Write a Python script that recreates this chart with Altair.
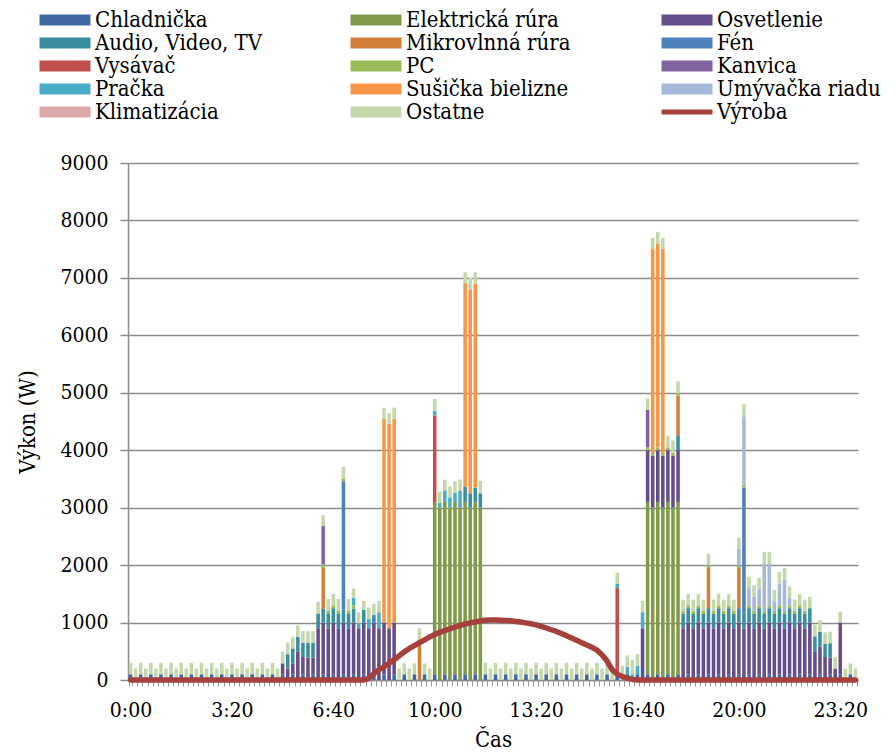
import altair as alt
import pandas as pd

# ---------------- data ----------------
times = [f"{m // 60}:{m % 60:02d}" for m in range(0, 1440, 10)]
tick_labels = ["0:00", "3:20", "6:40", "10:00", "13:20", "16:40", "20:00", "23:20"]

names = ["Chladnička", "Elektrická rúra", "Osvetlenie",
         "Audio, Video, TV", "Mikrovlnná rúra", "Fén",
         "Vysávač", "PC", "Kanvica",
         "Pračka", "Sušička bielizne", "Umývačka riadu",
         "Klimatizácia", "Ostatne", "Výroba"]
colors = ["#4268A3", "#809B48", "#654E8B",
          "#3B8DA0", "#D0803A", "#4F81BD",
          "#C0504D", "#9BBB59", "#8064A2",
          "#4BACC6", "#F79646", "#A7B9DA",
          "#DBA9A8", "#C5D8AC", "#A5403D"]

chladnicka = [
    100, 0, 100, 0, 100, 0, 100, 0, 100, 0, 100, 0,
    100, 0, 100, 0, 100, 0, 100, 0, 100, 0, 100, 0,
    100, 0, 100, 0, 100, 0, 100, 0, 100, 0, 100, 0,
    100, 0, 100, 0, 100, 0, 100, 0, 100, 0, 100, 0,
    100, 0, 100, 0, 100, 0, 100, 0, 100, 0, 100, 0,
    100, 0, 100, 0, 100, 0, 100, 0, 100, 0, 100, 0,
    100, 0, 100, 0, 100, 0, 100, 0, 100, 0, 100, 0,
    100, 0, 100, 0, 100, 0, 100, 0, 100, 0, 100, 0,
    100, 0, 100, 0, 100, 0, 100, 0, 100, 0, 100, 0,
    100, 0, 100, 0, 100, 0, 100, 0, 100, 0, 100, 0,
    100, 0, 100, 0, 100, 0, 100, 0, 100, 0, 100, 0,
    100, 0, 100, 0, 100, 0, 100, 0, 100, 0, 100, 0,
]
osvetlenie = [
    0, 0, 0, 0, 0, 0, 0, 0, 0, 0, 0, 0,
    0, 0, 0, 0, 0, 0, 0, 0, 0, 0, 0, 0,
    0, 0, 0, 0, 0, 0, 190, 200, 190, 490, 300, 390,
    290, 900, 900, 900, 900, 900, 900, 900, 900, 900, 900, 900,
    900, 900, 900, 900, 900, 0, 0, 0, 0, 0, 0, 0,
    0, 0, 0, 0, 0, 0, 0, 0, 0, 0, 0, 0,
    0, 0, 0, 0, 0, 0, 0, 0, 0, 0, 0, 0,
    0, 0, 0, 0, 0, 0, 0, 0, 0, 0, 0, 0,
    0, 0, 0, 0, 0, 900, 900, 900, 900, 900, 900, 900,
    900, 900, 900, 900, 900, 900, 900, 900, 900, 900, 900, 900,
    900, 900, 900, 900, 900, 900, 900, 900, 900, 900, 900, 900,
    900, 900, 900, 500, 480, 400, 290, 200, 900, 0, 0, 0,
]
audio = [
    0, 0, 0, 0, 0, 0, 0, 0, 0, 0, 0, 0,
    0, 0, 0, 0, 0, 0, 0, 0, 0, 0, 0, 0,
    0, 0, 0, 0, 0, 0, 0, 250, 260, 260, 250, 260,
    260, 260, 240, 260, 250, 260, 230, 260, 240, 0, 220, 0,
    130, 0, 0, 0, 0, 0, 0, 0, 0, 0, 0, 0,
    0, 0, 0, 0, 0, 0, 260, 250, 250, 250, 0, 0,
    0, 0, 0, 0, 0, 0, 0, 0, 0, 0, 0, 0,
    0, 0, 0, 0, 0, 0, 0, 0, 0, 0, 0, 0,
    0, 0, 0, 0, 0, 0, 0, 0, 0, 0, 0, 0,
    250, 250, 250, 250, 250, 250, 250, 250, 250, 250, 250, 250,
    250, 250, 250, 250, 250, 250, 250, 250, 250, 250, 250, 250,
    250, 250, 250, 260, 260, 230, 250, 0, 0, 0, 0, 0,
]
pc = [
    0, 0, 0, 0, 0, 0, 0, 0, 0, 0, 0, 0,
    0, 0, 0, 0, 0, 0, 0, 0, 0, 0, 0, 0,
    0, 0, 0, 0, 0, 0, 0, 0, 0, 0, 0, 0,
    0, 0, 60, 50, 50, 50, 50, 50, 60, 0, 0, 0,
    0, 0, 0, 0, 0, 0, 0, 0, 0, 0, 0, 0,
    0, 0, 0, 0, 0, 0, 0, 0, 0, 0, 0, 0,
    0, 0, 0, 0, 0, 0, 0, 0, 0, 0, 0, 0,
    0, 0, 0, 0, 0, 0, 0, 0, 0, 0, 0, 0,
    0, 0, 0, 0, 0, 0, 50, 50, 50, 50, 50, 50,
    50, 50, 50, 50, 50, 50, 50, 50, 50, 50, 50, 50,
    50, 50, 50, 50, 50, 50, 50, 50, 50, 50, 50, 50,
    50, 50, 0, 0, 0, 0, 0, 0, 0, 0, 0, 0,
]
ostatne = [
    200, 200, 200, 200, 200, 200, 200, 200, 200, 200, 200, 200,
    200, 200, 200, 200, 200, 200, 200, 200, 200, 200, 200, 200,
    200, 200, 200, 200, 200, 200, 200, 200, 200, 200, 200, 200,
    200, 200, 190, 200, 200, 200, 200, 200, 160, 190, 160, 200,
    200, 200, 190, 190, 190, 200, 190, 200, 190, 200, 190, 200,
    200, 200, 190, 190, 200, 200, 190, 200, 200, 220, 200, 200,
    200, 200, 200, 200, 200, 200, 200, 200, 200, 200, 200, 200,
    200, 200, 200, 200, 200, 200, 200, 200, 200, 200, 200, 200,
    190, 250, 200, 250, 200, 200, 200, 190, 200, 190, 200, 220,
    200, 200, 200, 200, 200, 200, 200, 200, 200, 200, 200, 200,
    190, 210, 200, 200, 200, 200, 200, 200, 200, 200, 200, 200,
    200, 200, 200, 200, 200, 200, 200, 200, 190, 200, 190, 200,
]
vyroba = [
    0, 0, 0, 0, 0, 0, 0, 0, 0, 0, 0, 0,
    0, 0, 0, 0, 0, 0, 0, 0, 0, 0, 0, 0,
    0, 0, 0, 0, 0, 0, 0, 0, 0, 0, 0, 0,
    0, 0, 0, 0, 0, 0, 0, 0, 0, 0, 0, 30,
    110, 180, 230, 290, 350, 420, 490, 550, 600, 650, 700, 750,
    790, 830, 860, 890, 920, 950, 975, 995, 1010, 1030, 1040, 1045,
    1045, 1040, 1035, 1030, 1020, 1010, 995, 980, 960, 935, 905, 875,
    845, 810, 770, 730, 690, 650, 610, 570, 520, 440, 330, 180,
    100, 60, 30, 10, 0, 0, 0, 0, 0, 0, 0, 0,
    0, 0, 0, 0, 0, 0, 0, 0, 0, 0, 0, 0,
    0, 0, 0, 0, 0, 0, 0, 0, 0, 0, 0, 0,
    0, 0, 0, 0, 0, 0, 0, 0, 0, 0, 0, 0,
]

# sparse series: time -> W
elektricka = {"10:00": 3000, "10:10": 3000, "10:20": 3000, "10:30": 3000, "10:40": 3000,
              "10:50": 3000, "11:00": 3000, "11:10": 3000, "11:20": 3000, "11:30": 3000,
              "17:00": 3000, "17:10": 3000, "17:20": 3000, "17:30": 3000, "17:40": 3000,
              "17:50": 3000, "18:00": 3000}
mikrovlnna = {"6:20": 710, "9:30": 700, "18:00": 700, "19:00": 700, "20:00": 700}
fen = {"7:00": 2230, "20:10": 2200}
vysavac = {"10:00": 1500, "16:00": 1500}
kanvica = {"6:20": 670, "17:00": 650}
pracka = {"7:20": 130, "7:30": 90, "7:50": 160, "8:10": 280,
          "10:00": 90, "10:10": 80, "10:20": 200, "10:30": 180, "10:40": 160, "10:50": 290,
          "16:00": 80, "16:20": 130, "16:30": 100, "16:40": 150, "16:50": 280}
susicka = {"8:20": 3550, "8:30": 3560, "8:40": 3550,
           "11:00": 3550, "11:10": 3550, "11:20": 3550,
           "17:10": 3560, "17:20": 3550, "17:30": 3560}
umyvacka = {"20:00": 290, "20:10": 1190, "20:20": 300, "20:30": 250, "20:40": 280,
            "20:50": 830, "21:00": 730, "21:10": 170, "21:20": 380, "21:30": 550,
            "21:40": 130}
klimatizacia = {}


def dense(d):
    return [d.get(t, 0) for t in times]


bar_values = [chladnicka, dense(elektricka), osvetlenie, audio, dense(mikrovlnna),
              dense(fen), dense(vysavac), pc, dense(kanvica), dense(pracka),
              dense(susicka), dense(umyvacka), dense(klimatizacia), ostatne]

rows = []
for k, (name, vals) in enumerate(zip(names[:14], bar_values)):
    for t, v in zip(times, vals):
        if v > 0:
            rows.append({"t": t, "s": name, "k": k, "v": v})
bar_df = pd.DataFrame(rows)
line_df = pd.DataFrame({"t": times, "v": vyroba})

leg_df = pd.DataFrame({"s": names,
                       "col": [i % 3 for i in range(len(names))],
                       "row": [i // 3 for i in range(len(names))]})
leg_boxes = leg_df[leg_df.s != "Výroba"]
leg_line = leg_df[leg_df.s == "Výroba"]

# ---------------- styling ----------------
FONT = "DejaVu Serif Condensed"
GRID = "#8C8C8C"
FS = 21
LFS = 22

tick_js = "[" + ",".join(f"'{t}'" for t in tick_labels) + "]"

color_scale = alt.Scale(domain=names, range=colors)
x_scale = alt.Scale(domain=times, paddingInner=0.3, paddingOuter=0.15)
y_scale = alt.Scale(domain=[0, 9000], nice=False)

x_axis = alt.Axis(
    title="Čas", labelExpr=f"indexof({tick_js}, datum.label) >= 0 ? datum.label : ''",
    labelAngle=0, labelOverlap=False, labelFontSize=FS,
    labelColor="black", labelPadding=13, tickBand="extent", tickSize=6,
    tickColor="#9A9A9A", tickWidth=1, domainColor=GRID, domainWidth=1.5,
    titleFontSize=LFS, titleFontWeight="normal",
    titleColor="black", titlePadding=9, grid=False)

y_axis = alt.Axis(
    title="Výkon (W)", values=list(range(0, 9001, 1000)), format="d", grid=True,
    gridColor=GRID, gridWidth=1.5, domainColor=GRID, domainWidth=1.5,
    tickColor=GRID, tickWidth=1.5, tickSize=8,
    labelFontSize=FS, labelColor="black", labelPadding=12,
    titleFontSize=LFS, titleFontWeight="normal",
    titleColor="black", titlePadding=20)

bars = alt.Chart(bar_df).mark_bar(strokeWidth=0).encode(
    x=alt.X("t:N", scale=x_scale, axis=x_axis),
    y=alt.Y("v:Q", stack="zero", scale=y_scale, axis=y_axis),
    color=alt.Color("s:N", scale=color_scale, legend=None),
    order=alt.Order("k:Q", sort="ascending"),
)

line = alt.Chart(line_df).mark_line(
    color="#A5403D", strokeWidth=5.5, strokeJoin="round", strokeCap="round"
).encode(
    x=alt.X("t:N", scale=x_scale),
    y=alt.Y("v:Q", scale=y_scale),
)

leg_x = alt.X("col:Q", scale=alt.Scale(domain=[0, 2], range=[-63, 559], nice=False, zero=False), axis=None)
leg_y = alt.Y("row:Q", scale=alt.Scale(domain=[0, 4], range=[-143, -51], nice=False, zero=False), axis=None)

swatches = alt.Chart(leg_boxes).mark_point(
    shape="M-1,-0.22L1,-0.22L1,0.22L-1,0.22Z", size=2601, filled=True,
    opacity=1, strokeWidth=0
).encode(x=leg_x, y=leg_y, color=alt.Color("s:N", scale=color_scale, legend=None))

line_swatch = alt.Chart(leg_line).mark_point(
    shape="M-1,-0.1L1,-0.1L1,0.1L-1,0.1Z", size=2601, filled=True,
    opacity=1, strokeWidth=0
).encode(x=leg_x, y=leg_y, color=alt.Color("s:N", scale=color_scale, legend=None))

labels = alt.Chart(leg_df).mark_text(
    align="left", baseline="middle", dx=30, fontSize=LFS, color="black"
).encode(x=leg_x, y=leg_y, text="s:N")

main = alt.layer(bars, line)
legend = alt.layer(swatches, line_swatch, labels)

chart = alt.layer(main, legend).resolve_scale(
    x="independent", y="independent"
).properties(
    width=730, height=517,
    autosize=alt.AutoSizeParams(type="none"),
    padding={"left": 120, "top": 155, "right": 30, "bottom": 75},
    background="white",
).configure(
    font=FONT
).configure_axis(
    labelFont=FONT, titleFont=FONT
).configure_text(
    font=FONT
).configure_view(strokeWidth=0)

chart.save("out.html", embed_options={"renderer": "svg", "actions": False})
